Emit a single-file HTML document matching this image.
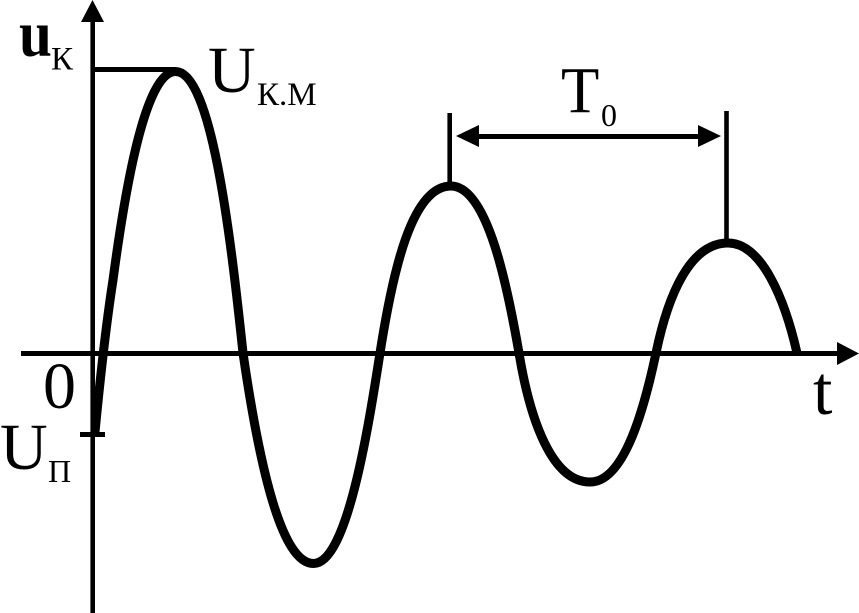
<!DOCTYPE html>
<html>
<head>
<meta charset="utf-8">
<style>
html,body{margin:0;padding:0;background:#fff;width:859px;height:613px;overflow:hidden}
svg{display:block}
text{font-family:"Liberation Serif",serif;fill:#000}
</style>
</head>
<body>
<svg width="859" height="613" viewBox="0 0 859 613" xmlns="http://www.w3.org/2000/svg">
<!-- axes -->
<line x1="92.7" y1="12" x2="92.7" y2="613" stroke="#000" stroke-width="4.6"/>
<polygon points="92.5,0 81,22 104,22" fill="#000"/>
<line x1="21" y1="353.5" x2="840" y2="353.5" stroke="#000" stroke-width="5"/>
<polygon points="859,353.5 837,342 837,365" fill="#000"/>
<!-- ticks -->
<line x1="93" y1="69.5" x2="176" y2="69.5" stroke="#000" stroke-width="5"/>
<line x1="80" y1="434.5" x2="105" y2="434.5" stroke="#000" stroke-width="5"/>
<!-- curve -->
<path d="M95,432 C100,380 106,325 113,280 C125,190 145,71.5 175.5,71.5 C211,71.5 230,230 243,353 C260,470 282,563.5 313.5,563.5 C347,563.5 368,430 380,353 C393,270 412,186 451,186 C488,186 508,290 519,353 C530,420 552,482 590,482 C625,482 645,405 656,353 C668,295 690,243 728,243 C762,243 785,300 797,353" fill="none" stroke="#000" stroke-width="9" stroke-linecap="butt"/>
<!-- period markers -->
<line x1="449.7" y1="113" x2="449.7" y2="186" stroke="#000" stroke-width="4.6"/>
<line x1="726.5" y1="111" x2="726.5" y2="243" stroke="#000" stroke-width="4.6"/>
<line x1="478" y1="136.5" x2="699" y2="136.5" stroke="#000" stroke-width="5"/>
<polygon points="456,136 479,125 479,147" fill="#000"/>
<polygon points="721,136 698,125 698,147" fill="#000"/>
<!-- labels -->
<text transform="translate(19 55.5) scale(1.02 1.13)" font-size="58" font-weight="bold">u</text>
<text x="51" y="69.5" font-size="33">К</text>
<text x="208" y="92" font-size="66">U</text>
<text x="257" y="105" font-size="33">К.М</text>
<text transform="translate(561 112.5) scale(.95 1)" font-size="66">T</text>
<text x="601" y="126" font-size="32">0</text>
<text x="43" y="408" font-size="66">0</text>
<text x="813" y="414" font-size="70">t</text>
<text x="0" y="469" font-size="66">U</text>
<text x="48" y="482" font-size="32">П</text>
</svg>
</body>
</html>
